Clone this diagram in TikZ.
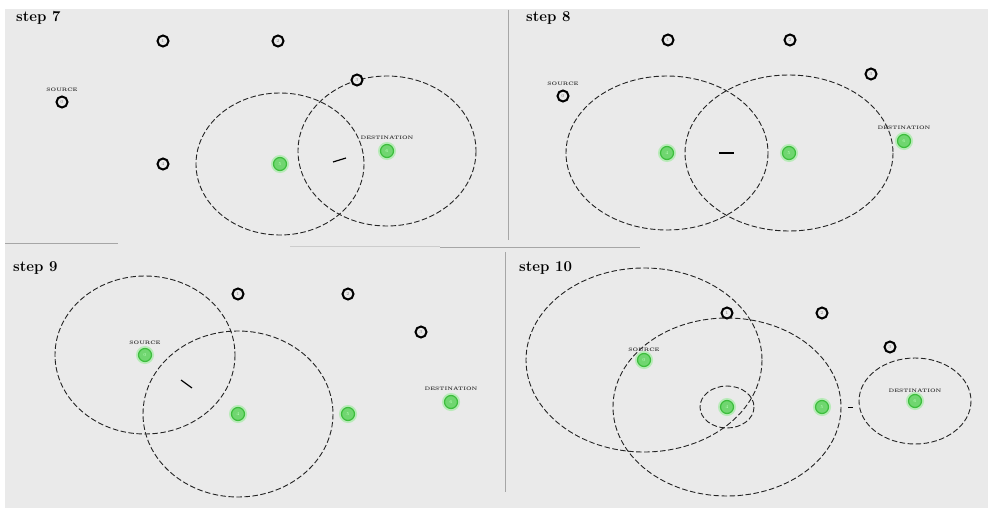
\documentclass[tikz,border=0pt]{standalone}
\usepackage{tikz}
\usetikzlibrary{positioning}
\definecolor{bg}{RGB}{234,234,234}
\definecolor{gnode}{RGB}{112,214,112}
\definecolor{gring}{RGB}{60,190,60}
\definecolor{glow}{RGB}{185,235,185}
\definecolor{rng}{RGB}{35,35,35}
\tikzset{
  bnode/.style={circle, draw=black, line width=2pt, fill=bg, minimum size=11pt, inner sep=0pt, font=\fontsize{4.5}{4.5}\selectfont, text=gray},
  gnodest/.style={circle, draw=gring, line width=1.2pt, fill=gnode, minimum size=13pt, inner sep=0pt, font=\fontsize{4.5}{4.5}\selectfont, text=green!25!white, preaction={draw=glow, line width=5pt}},
  lbl/.style={font=\fontsize{5}{5}\selectfont\bfseries, text=black!80, inner sep=0.5pt},
  rangeline/.style={draw=rng, line width=0.9pt, dash pattern=on 5.5pt off 2.5pt},
  steptitle/.style={font=\fontsize{15}{17}\selectfont\bfseries, anchor=west, inner sep=0pt},
  divider/.style={draw=black!35, line width=0.7pt},
  tick/.style={draw=black, line width=1.2pt}
}
\begin{document}
\begin{tikzpicture}[x=1pt,y=-1pt]
\useasboundingbox (0,0) rectangle (990,516);
\fill[white] (0,0) rectangle (990,516);
\fill[bg] (5,9) rectangle (988,508);
% dividers
\draw[divider] (508,10) -- (508,240);
\draw[divider] (505,252) -- (505,492);
\draw[divider] (5,243) -- (118,243);
\draw[divider, draw=black!20] (290,246) -- (440,246);
\draw[divider] (440,247) -- (640,247);

% ---------------- step 7 ----------------
\node[steptitle] (t7) at (16,18) {step 7};
\node[bnode] (s7) at (62,102) {0};
\node[lbl, above=3pt of s7.north] (s7l) {SOURCE};
\node[bnode] (a7) at (163,41) {1};
\node[bnode] (b7) at (278,41) {2};
\node[bnode] (d7) at (163,164) {4};
\node[gnodest] (e7) at (280,164) {5};
\node[gnodest] (f7) at (387,151) {6};
\node[lbl, above=4pt of f7.north] (f7l) {DESTINATION};
\draw[rangeline] (e7.center) ellipse [x radius=84, y radius=71];
\draw[rangeline] (f7.center) ellipse [x radius=89, y radius=75];
\node[bnode] (c7) at (357,80) {3};
\coordinate (k7a) at (333,162); \coordinate (k7b) at (346,158);
\draw[tick] (k7a) -- (k7b);

% ---------------- step 8 ----------------
\node[steptitle] (t8) at (526,18) {step 8};
\node[bnode] (s8) at (563,96) {0};
\node[lbl, above=3pt of s8.north] (s8l) {SOURCE};
\node[bnode] (a8) at (668,40) {1};
\node[bnode] (b8) at (790,40) {2};
\node[gnodest] (d8) at (667,153) {4};
\node[gnodest] (e8) at (789,153) {5};
\node[gnodest] (f8) at (904,141) {6};
\node[lbl, above=4pt of f8.north] (f8l) {DESTINATION};
\draw[rangeline] (d8.center) ellipse [x radius=101, y radius=77];
\draw[rangeline] (e8.center) ellipse [x radius=104, y radius=78];
\node[bnode] (c8) at (871,74) {3};
\coordinate (k8a) at (719,153); \coordinate (k8b) at (734,153);
\draw[tick] (k8a) -- (k8b);

% ---------------- step 9 ----------------
\node[steptitle] (t9) at (13,268) {step 9};
\node[gnodest] (s9) at (145,355) {0};
\node[lbl, above=3pt of s9.north] (s9l) {SOURCE};
\node[bnode] (a9) at (238,294) {1};
\node[bnode] (b9) at (348,294) {2};
\node[bnode] (c9) at (421,332) {3};
\node[gnodest] (d9) at (238,414) {4};
\node[gnodest] (e9) at (348,414) {5};
\node[gnodest] (f9) at (451,402) {6};
\node[lbl, above=4pt of f9.north] (f9l) {DESTINATION};
\draw[rangeline] (s9.center) ellipse [x radius=90, y radius=79];
\draw[rangeline] (d9.center) ellipse [x radius=95, y radius=83];
\coordinate (k9a) at (181,380); \coordinate (k9b) at (192,388);
\draw[tick] (k9a) -- (k9b);

% ---------------- step 10 ----------------
\node[steptitle] (t10) at (519,268) {step 10};
\node[gnodest] (s10) at (644,360) {0};
\node[lbl, above=1pt of s10.north] (s10l) {SOURCE};
\node[bnode] (a10) at (727,313) {1};
\node[bnode] (b10) at (822,313) {2};
\node[bnode] (c10) at (890,347) {3};
\node[gnodest] (d10) at (727,407) {4};
\node[gnodest] (e10) at (822,407) {5};
\node[gnodest] (f10) at (915,401) {6};
\node[lbl, above=1pt of f10.north] (f10l) {DESTINATION};
\draw[rangeline] (s10.center) ellipse [x radius=118, y radius=92];
\draw[rangeline] (d10.center) ellipse [x radius=114, y radius=89];
\draw[rangeline] (d10.center) ellipse [x radius=27, y radius=21];
\draw[rangeline] (f10.center) ellipse [x radius=56, y radius=43];
\coordinate (k10a) at (848,407); \coordinate (k10b) at (853,407);
\draw[tick, line width=0.8pt] (k10a) -- (k10b);
\end{tikzpicture}
\end{document}
